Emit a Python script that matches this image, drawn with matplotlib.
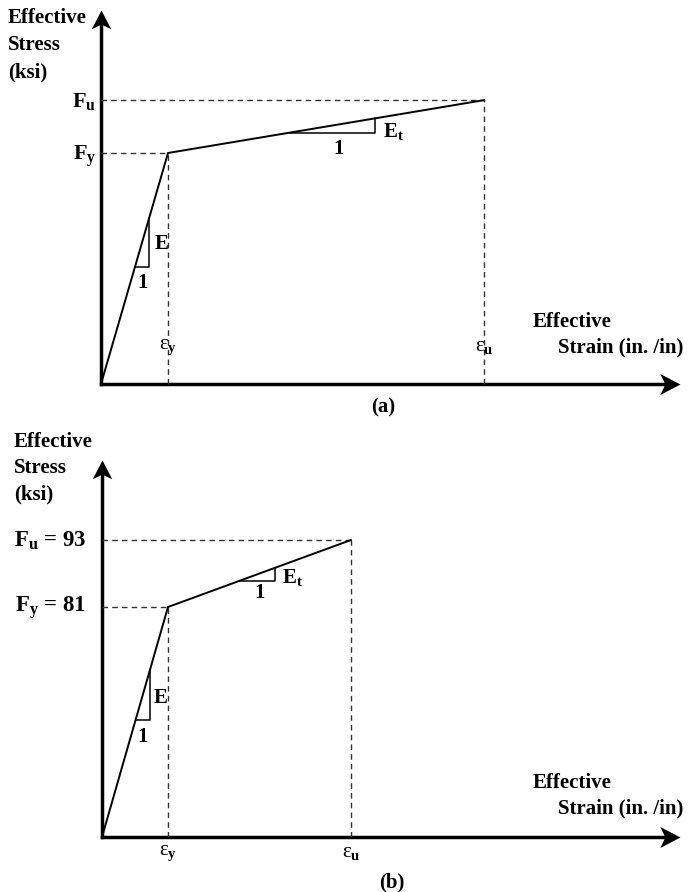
import matplotlib
matplotlib.use("Agg")
import matplotlib.pyplot as plt
from matplotlib.path import Path

plt.rcParams['font.family'] = ['Liberation Serif', 'DejaVu Serif']
plt.rcParams['mathtext.fontset'] = 'custom'
plt.rcParams['mathtext.rm'] = 'Liberation Serif'
plt.rcParams['mathtext.bf'] = 'Liberation Serif:bold'
plt.rcParams['mathtext.it'] = 'Liberation Serif:italic'

# ---------------- data (schematic units: strain in eps_y, stress in F_y) ----
strain_a = [0.0, 1.0, 5.72]
stress_a = [0.0, 1.0, 1.229]
strain_b = [0.0, 1.0, 3.77]
stress_b = [0.0, 1.0, 1.291]
stress_labels_a = [r'F$_{\mathbf{y}}$', r'F$_{\mathbf{u}}$']
stress_labels_b = [r'F$_{\mathbf{y}}$ = 81', r'F$_{\mathbf{u}}$ = 93']
strain_labels = [r'$\mathrm{ε}_{\mathbf{y}}$', r'$\mathrm{ε}_{\mathbf{u}}$']
panel_labels = ['(a)', '(b)']

W, H = 694, 892
fig = plt.figure(figsize=(W / 100, H / 100), dpi=100)

# concave arrowhead markers (tip at marker centre)
head_right = Path([(0, 0), (-1, 0.52), (-0.75, 0), (-1, -0.52), (0, 0)],
                  [Path.MOVETO, Path.LINETO, Path.LINETO, Path.LINETO, Path.CLOSEPOLY])
head_up = Path([(0, 0), (0.52, -1), (0, -0.75), (-0.52, -1), (0, 0)],
               [Path.MOVETO, Path.LINETO, Path.LINETO, Path.LINETO, Path.CLOSEPOLY])


def fp(x, y):
    return (x / W, 1 - y / H)


def make_axes(ox, oy, xtip, ytip, px_per_x, px_per_y):
    ax = fig.add_axes([ox / W, 1 - oy / H, (xtip - ox) / W, (oy - ytip) / H])
    ax.set_xlim(0, (xtip - ox) / px_per_x)
    ax.set_ylim(0, (oy - ytip) / px_per_y)
    ax.axis('off')
    xmax = ax.get_xlim()[1]
    ymax = ax.get_ylim()[1]
    ax.plot([0, xmax - 12 / px_per_x], [0, 0], color='black', lw=2.5,
            solid_capstyle='projecting', clip_on=False)
    ax.plot([0, 0], [0, ymax - 12 / px_per_y], color='black', lw=2.5,
            solid_capstyle='projecting', clip_on=False)
    ax.plot([xmax], [0], marker=head_right, ms=29, color='black', mew=0, clip_on=False)
    ax.plot([0], [ymax], marker=head_up, ms=27, color='black', mew=0, clip_on=False)
    return ax


def draw_panel(ax, strain, stress, tE, tEt):
    ax.plot(strain, stress, color='black', lw=1.4, clip_on=False, zorder=3,
            solid_joinstyle='miter')
    for xs, ys in zip(strain[1:], stress[1:]):
        ax.plot([0, xs], [ys, ys], ls=(0, (4, 3)), color='#333333', lw=1.0, clip_on=False)
        ax.plot([xs, xs], [0, ys], ls=(0, (4, 3)), color='#333333', lw=1.0, clip_on=False)

    def tri(p0, p1, t1, t2):
        x1 = p0[0] + t1 * (p1[0] - p0[0]); y1 = p0[1] + t1 * (p1[1] - p0[1])
        x2 = p0[0] + t2 * (p1[0] - p0[0]); y2 = p0[1] + t2 * (p1[1] - p0[1])
        ax.plot([x1, x2, x2], [y1, y1, y2], color='black', lw=1.1, clip_on=False)
    tri((strain[0], stress[0]), (strain[1], stress[1]), *tE)
    tri((strain[1], stress[1]), (strain[2], stress[2]), *tEt)


bold = dict(fontweight='bold', color='black')

# ---------------- panel (a) ----------------
axa = make_axes(101, 384, 680, 10, 67, 231)
draw_panel(axa, strain_a, stress_a, (0.506, 0.72), (0.386, 0.655))
for i, s in enumerate(['Effective', 'Stress', '(ksi)']):
    fig.text(*fp(8, 18 + 27 * i), s, fontsize=15, va='center', ha='left', **bold)
fig.text(*fp(96, 156), stress_labels_a[0], fontsize=16, va='center', ha='right', **bold)
fig.text(*fp(96, 101), stress_labels_a[1], fontsize=16, va='center', ha='right', **bold)
fig.text(*fp(383, 131), r'E$_{\mathbf{t}}$', fontsize=15, va='center', ha='left', **bold)
fig.text(*fp(339, 149), '1', fontsize=15, va='center', ha='center', **bold)
fig.text(*fp(155, 244), 'E', fontsize=15, va='center', ha='left', **bold)
fig.text(*fp(143, 283), '1', fontsize=15, va='center', ha='center', **bold)
fig.text(*fp(168, 347), strain_labels[0], fontsize=15, va='center', ha='center')
fig.text(*fp(484, 347), strain_labels[1], fontsize=15, va='center', ha='center')
fig.text(*fp(533, 322), 'Effective', fontsize=15, va='center', ha='left', **bold)
fig.text(*fp(558, 347), 'Strain (in. /in)', fontsize=15, va='center', ha='left', **bold)
fig.text(*fp(383, 407), panel_labels[0], fontsize=15, va='center', ha='center', **bold)

# ---------------- panel (b) ----------------
axb = make_axes(102, 837, 680, 460, 66, 230)
draw_panel(axb, strain_b, stress_b, (0.509, 0.727), (0.394, 0.585))
for i, s in enumerate(['Effective', 'Stress', '(ksi)']):
    fig.text(*fp(14, 442 + 26 * i), s, fontsize=15, va='center', ha='left', **bold)
fig.text(*fp(86, 608), stress_labels_b[0], fontsize=16.5, va='center', ha='right', **bold)
fig.text(*fp(86, 541), stress_labels_b[1], fontsize=16.5, va='center', ha='right', **bold)
fig.text(*fp(282, 577), r'E$_{\mathbf{t}}$', fontsize=15, va='center', ha='left', **bold)
fig.text(*fp(260, 593), '1', fontsize=15, va='center', ha='center', **bold)
fig.text(*fp(154, 698), 'E', fontsize=15, va='center', ha='left', **bold)
fig.text(*fp(143, 737), '1', fontsize=15, va='center', ha='center', **bold)
fig.text(*fp(168, 853), strain_labels[0], fontsize=15, va='center', ha='center')
fig.text(*fp(351, 853), strain_labels[1], fontsize=15, va='center', ha='center')
fig.text(*fp(533, 783), 'Effective', fontsize=15, va='center', ha='left', **bold)
fig.text(*fp(558, 808), 'Strain (in. /in)', fontsize=15, va='center', ha='left', **bold)
fig.text(*fp(392, 882), panel_labels[1], fontsize=15, va='center', ha='center', **bold)

fig.savefig('out.png', dpi=100, facecolor='white')
